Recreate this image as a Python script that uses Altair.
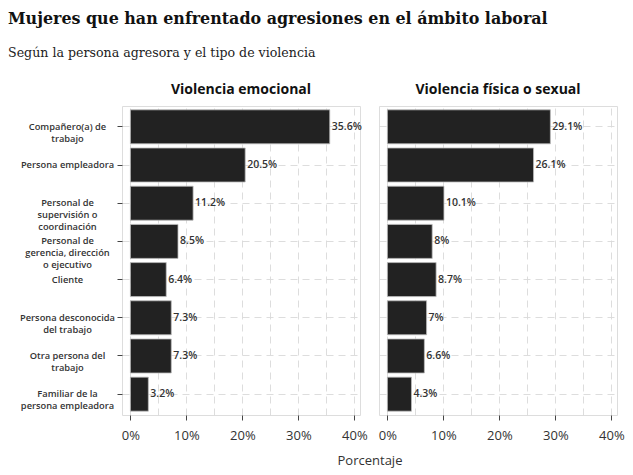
import altair as alt
import pandas as pd

categories = [
    "Compañero(a) de|trabajo",
    "Persona empleadora",
    "Personal de|supervisión o|coordinación",
    "Personal de|gerencia, dirección|o ejecutivo",
    "Cliente",
    "Persona desconocida|del trabajo",
    "Otra persona del|trabajo",
    "Familiar de la|persona empleadora",
]
emocional = [35.6, 20.5, 11.2, 8.5, 6.4, 7.3, 7.3, 3.2]
fisica = [29.1, 26.1, 10.1, 8.0, 8.7, 7.0, 6.6, 4.3]
panel_titles = ["Violencia emocional", "Violencia física o sexual"]
x_ticks = [0, 5, 10, 15, 20, 25, 30, 35, 40]

SANS = "Open Sans"
DOMAIN = [-1.5, 41]
W, H = 238, 309
SPACING = 19
GRID = dict(grid=True, gridColor="#d9d9d9", gridDash=[7, 5], gridWidth=0.9)


def panel(values, title, first):
    df = pd.DataFrame({"cat": categories, "v": values})
    x = alt.X(
        "v:Q",
        scale=alt.Scale(domain=DOMAIN, nice=False, zero=False),
        axis=alt.Axis(
            values=x_ticks,
            labelExpr="datum.value % 10 == 0 ? datum.value + '%' : ''",
            tickColor={"condition": {"test": "datum.value % 10 == 0", "value": "#444"}, "value": "transparent"},
            tickSize=5,
            domain=False,
            labelFont=SANS,
            labelFontSize=13,
            labelColor="#333",
            labelPadding=9,
            title="Porcentaje" if first else None,
            titleFont=SANS,
            titleFontSize=13,
            titleFontWeight="normal",
            titleColor="#333",
            titleX=W + SPACING / 2 if first else 0,
            titleAnchor="middle",
            titlePadding=12,
            **GRID,
        ),
    )
    if first:
        yaxis = alt.Axis(
            labelExpr="split(datum.label, '|')",
            labelAlign="center",
            labelPadding=50,
            labelFont=SANS,
            labelFontSize=9.3,
            labelFontWeight=600,
            labelColor="#333",
            labelLineHeight=12,
            tickSize=5,
            tickColor="#444",
            domain=False,
            bandPosition=0.5,
            title=None,
            **GRID,
        )
    else:
        yaxis = alt.Axis(
            labels=False,
            ticks=False,
            domain=False,
            bandPosition=0.5,
            title=None,
            **GRID,
        )
    y = alt.Y(
        "cat:N",
        sort=categories,
        scale=alt.Scale(paddingInner=0.11, paddingOuter=0.1),
        axis=yaxis,
    )
    base = alt.Chart(df).encode(x=x, y=y)
    bars = base.mark_bar(color="#222222", stroke="#bbbbbb", strokeWidth=0.8).encode(
        x2=alt.datum(0)
    )
    labels = base.transform_calculate(lab="datum.v + '%'").mark_text(
        align="left", baseline="middle", dx=2, font=SANS, fontSize=10.5,
        fontWeight=600, color="#333"
    ).encode(text="lab:N")
    return alt.layer(bars, labels).properties(
        width=W,
        height=H,
        title=alt.TitleParams(
            title, font=SANS, fontSize=14, fontWeight="bold", color="#111",
            anchor="middle", offset=9,
        ),
    )


chart = (
    alt.hconcat(
        panel(emocional, panel_titles[0], True),
        panel(fisica, panel_titles[1], False),
        spacing=SPACING,
        bounds="flush",
    )
    .properties(
        title=alt.TitleParams(
            "Mujeres que han enfrentado agresiones en el ámbito laboral",
            subtitle="Según la persona agresora y el tipo de violencia",
            font="DejaVu Serif",
            fontSize=15.9,
            fontWeight="bold",
            color="#111",
            subtitleFont="DejaVu Serif",
            subtitleFontSize=12.6,
            subtitleColor="#222",
            subtitlePadding=20,
            anchor="start",
            dx=-11,
            offset=23,
        ),
        padding={"left": 0, "top": 3, "right": 0, "bottom": 0},
    )
    .configure_view(stroke=None)
    .configure(background="white")
)

chart.save("out.html", embed_options={"renderer": "svg", "actions": False})
